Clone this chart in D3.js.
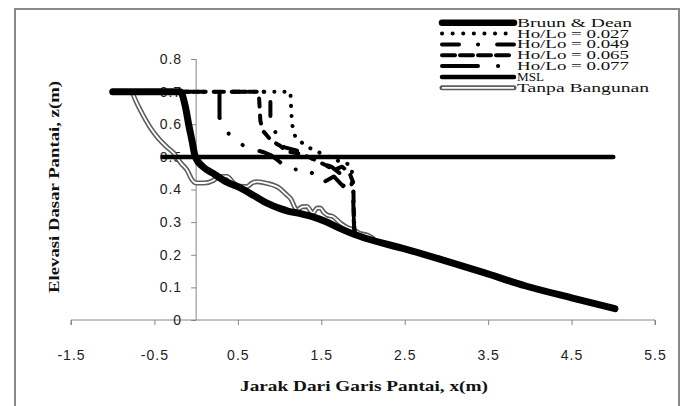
<!DOCTYPE html>
<html>
<head>
<meta charset="utf-8">
<script src="https://cdn.jsdelivr.net/npm/d3@7"></script>
<style>
  body { margin: 0; background: #fff; }
  svg { display: block; }
  .tick text { font-family: "Liberation Sans", Arial, sans-serif; font-size: 14px; fill: #222; letter-spacing: 1px; }
  .axis path, .axis line { stroke: #868686; }
  .axis-title { font-family: "Liberation Serif", "Times New Roman", serif; font-weight: bold; font-size: 15px; fill: #111; }
  .legend-text { font-family: "Liberation Serif", "Times New Roman", serif; font-size: 11.5px; fill: #111; }
</style>
</head>
<body>
<svg width="685" height="406"></svg>
<script>
// tick labels
const xTicks = [-1.5, -0.5, 0.5, 1.5, 2.5, 3.5, 4.5, 5.5];
const yTicks = [0, 0.1, 0.2, 0.3, 0.4, 0.5, 0.6, 0.7, 0.8];

// profiles, [x (m), z (m)]
const bruunDean = [[-1.0, 0.7], [-0.19, 0.7], [-0.13, 0.655], [-0.09, 0.6], [-0.05, 0.55], [-0.01, 0.5],
  [0.08, 0.47], [0.2, 0.45], [0.35, 0.425], [0.53, 0.405], [0.7, 0.38], [0.85, 0.358], [1.0, 0.342],
  [1.1, 0.334], [1.25, 0.326], [1.4, 0.316], [1.55, 0.302], [1.73, 0.28], [1.9, 0.262], [2.05, 0.249],
  [2.5, 0.218], [2.94, 0.185], [3.45, 0.145], [3.94, 0.105], [4.5, 0.068], [5.02, 0.035]];
const hoLo027 = [[-1.0, 0.7], [1.13, 0.7], [1.14, 0.64], [1.15, 0.6], [1.19, 0.56], [1.26, 0.545], [1.34, 0.53],
  [1.45, 0.516], [1.55, 0.505], [1.67, 0.49], [1.79, 0.483], [1.86, 0.47], [1.88, 0.43], [1.89, 0.33], [1.9, 0.265]];
const hoLo049 = [[-1.0, 0.7], [0.89, 0.7], [0.89, 0.62], [0.97, 0.56], [1.05, 0.53], [1.2, 0.52], [1.35, 0.5],
  [1.5, 0.48], [1.62, 0.47], [1.72, 0.45], [1.8, 0.43], [1.86, 0.42], [1.88, 0.38], [1.9, 0.265]];
const hoLo065 = [[-1.0, 0.7], [0.75, 0.7], [0.77, 0.61], [0.8, 0.58], [0.9, 0.55], [1.0, 0.535], [1.1, 0.516],
  [1.2, 0.512], [1.3, 0.505], [1.43, 0.49], [1.55, 0.475], [1.65, 0.46], [1.75, 0.47], [1.84, 0.45],
  [1.87, 0.43], [1.885, 0.41], [1.89, 0.3], [1.9, 0.265]];
const hoLo077 = [[-1.0, 0.7], [0.28, 0.7], [0.28, 0.62], [0.4, 0.567], [0.59, 0.53], [0.8, 0.515], [0.9, 0.505],
  [1.0, 0.485], [1.13, 0.46], [1.33, 0.465], [1.51, 0.42], [1.65, 0.44], [1.76, 0.41], [1.85, 0.44],
  [1.885, 0.4], [1.89, 0.3], [1.9, 0.265]];
const msl = [[-0.4, 0.5], [5.0, 0.5]];
const tanpaBangunan = [[-0.77, 0.7], [-0.72, 0.67], [-0.67, 0.644], [-0.55, 0.59], [-0.47, 0.562], [-0.35, 0.53],
  [-0.27, 0.512], [-0.18, 0.48], [-0.11, 0.46], [-0.05, 0.43], [0.0, 0.42], [0.1, 0.42], [0.2, 0.427],
  [0.28, 0.44], [0.37, 0.44], [0.45, 0.42], [0.53, 0.41], [0.61, 0.409], [0.67, 0.42], [0.73, 0.424],
  [0.85, 0.419], [1.0, 0.404], [1.08, 0.385], [1.13, 0.373], [1.21, 0.337], [1.27, 0.347], [1.33, 0.348],
  [1.37, 0.335], [1.4, 0.328], [1.45, 0.343], [1.49, 0.343], [1.53, 0.33], [1.57, 0.322], [1.64, 0.317],
  [1.73, 0.297], [1.8, 0.285], [1.89, 0.276], [1.97, 0.265], [2.05, 0.26], [2.12, 0.25]];

const legendNames = ["Bruun & Dean", "Ho/Lo = 0.027", "Ho/Lo = 0.049", "Ho/Lo = 0.065", "Ho/Lo = 0.077", "MSL", "Tanpa Bangunan"];

const svg = d3.select("svg"),
    width = +svg.attr("width"),
    height = +svg.attr("height");

// chart area frame
svg.append("rect")
    .attr("x", 15).attr("y", 9)
    .attr("width", 664).attr("height", 420)
    .style("fill", "none")
    .style("stroke", "#8a8a8a")
    .style("stroke-width", 2);

const x = d3.scaleLinear().domain([-1.5, 5.5]).range([71, 655]);
const y = d3.scaleLinear().domain([0, 0.8]).range([320, 59]);

svg.append("g")
    .attr("class", "axis")
    .attr("transform", `translate(0,${y(0)})`)
    .call(d3.axisBottom(x).tickValues(xTicks).tickSize(5).tickSizeOuter(5).tickPadding(25).tickFormat(d => String(d)))
    .call(g => g.select(".domain").attr("d", `M${x(-1.5)},5V0H${x(5.5)}V5`));

svg.append("g")
    .attr("class", "axis")
    .attr("transform", `translate(${x(0)},0)`)
    .call(d3.axisLeft(y).tickValues(yTicks).tickSize(5).tickSizeOuter(0).tickPadding(9).tickFormat(d => d === 0 ? "0" : d3.format(".1f")(d)))
    .call(g => g.select(".domain").attr("d", `M0,${y(0.8)}V${y(0)}`));

const line = d3.line().x(d => x(d[0])).y(d => y(d[1]));
const smooth = d3.line().x(d => x(d[0])).y(d => y(d[1])).curve(d3.curveMonotoneX);

const plot = svg.append("g").style("fill", "none").style("stroke-linecap", "round").style("stroke-linejoin", "round");

// Tanpa Bangunan: double line (grey edges, white core)
plot.append("path").attr("d", smooth(tanpaBangunan)).style("stroke", "#5e5e5e").style("stroke-width", 5);
plot.append("path").attr("d", smooth(tanpaBangunan)).style("stroke", "#fff").style("stroke-width", 1.8);

plot.append("path").attr("d", smooth(bruunDean)).style("stroke", "#000").style("stroke-width", 7);

const dashed = [
    { data: hoLo027, dash: "0.1,10", offset: 0 },
    { data: hoLo049, dash: "14,17,0.1,17", offset: 24.4 },
    { data: hoLo065, dash: "8,9", offset: 0 },
    { data: hoLo077, dash: "24,18,0.1,18,0.1,18", offset: 47.2 }
];
dashed.forEach(s => {
    plot.append("path").attr("d", line(s.data))
        .style("stroke", "#000").style("stroke-width", 4)
        .style("stroke-dasharray", s.dash)
        .style("stroke-dashoffset", s.offset);
});

plot.append("path").attr("d", line(msl)).style("stroke", "#000").style("stroke-width", 4.5);

// legend
const legendStyles = [
    { w: 6.5, dash: null },
    { w: 4, dash: "0.1,10.5" },
    { w: 4, dash: "17,19,0.1,19" },
    { w: 4, dash: "13,5" },
    { w: 4, dash: "36,20,0.1,20" },
    { w: 4.5, dash: null },
    { w: 5, dash: null, double: true }
];
const textWidths = [115, 112, 112, 112, 112, 27, 132];
const legend = svg.append("g").attr("transform", "translate(440,22.7)");
legendNames.forEach((name, i) => {
    const st = legendStyles[i];
    const yy = i * 10.85;
    const sample = legend.append("line")
        .attr("x1", 2).attr("x2", 74).attr("y1", yy).attr("y2", yy)
        .style("stroke", st.double ? "#5e5e5e" : "#000")
        .style("stroke-width", st.w)
        .style("stroke-linecap", "round");
    if (st.dash) sample.style("stroke-dasharray", st.dash);
    if (st.double) {
        legend.append("line")
            .attr("x1", 2).attr("x2", 74).attr("y1", yy).attr("y2", yy)
            .style("stroke", "#fff").style("stroke-width", 1.8);
    }
    legend.append("text")
        .attr("class", "legend-text")
        .attr("x", 77).attr("y", yy + 4)
        .attr("textLength", textWidths[i])
        .attr("lengthAdjust", "spacingAndGlyphs")
        .text(name);
});

// axis titles
svg.append("text")
    .attr("class", "axis-title")
    .attr("x", 364).attr("y", 391)
    .attr("text-anchor", "middle")
    .attr("textLength", 248)
    .attr("lengthAdjust", "spacingAndGlyphs")
    .text("Jarak Dari Garis Pantai, x(m)");

svg.append("text")
    .attr("class", "axis-title")
    .attr("transform", "translate(59,187) rotate(-90)")
    .attr("text-anchor", "middle")
    .attr("textLength", 212)
    .attr("lengthAdjust", "spacingAndGlyphs")
    .text("Elevasi Dasar Pantai, z(m)");
</script>
</body>
</html>
